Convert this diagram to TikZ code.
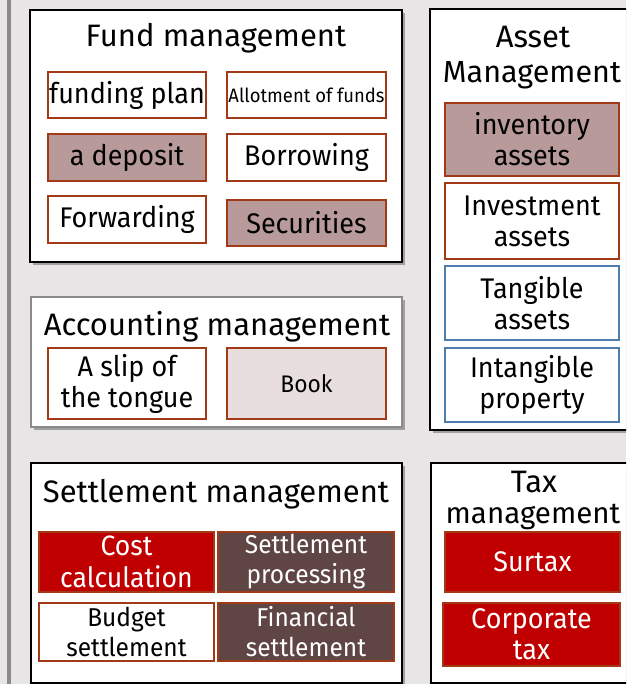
\documentclass[tikz,border=0pt]{standalone}
\usepackage{fontspec}
\setmainfont{Fira Sans}
\newfontfamily\subf{Fira Sans}[FakeStretch=0.95]
\usetikzlibrary{shadows}
\definecolor{bg}{HTML}{E7E5E6}
\definecolor{barc}{HTML}{8A8A8A}
\definecolor{rust}{HTML}{A33A17}
\definecolor{bluec}{HTML}{4F7DAF}
\definecolor{rosy}{HTML}{B99A9A}
\definecolor{pinkl}{HTML}{E9DEDE}
\definecolor{redc}{HTML}{C00000}
\definecolor{brownd}{HTML}{604545}
\newcommand\mybox[7]{\node[#1, minimum width={(#5-#3)*1pt}, minimum height={(#6-#4)*1pt}] (#2) at ({(#3+#5)/2},{(#4+#6)/2}) {#7};}
\begin{document}
\begin{tikzpicture}[x=1pt,y=-1pt,
  outer/.style={draw=black, line width=1.6pt, fill=white, inner sep=0,
    drop shadow={shadow xshift=3pt, shadow yshift=-3pt, opacity=0.3, fill=black}},
  outerg/.style={outer, draw=barc},
  sub/.style={draw=rust, line width=1.6pt, inner sep=0, align=center, fill=white,
    font=\subf\fontsize{28.4}{31}\selectfont},
  subr/.style={sub, fill=rosy},
  subp/.style={sub, fill=pinkl},
  subb/.style={sub, draw=bluec},
  subred/.style={sub, fill=redc, text=white},
  subbr/.style={sub, fill=brownd, text=white},
  setf/.style={font=\subf\fontsize{25.8}{30}\selectfont},
  title/.style={anchor=base, inner sep=0, font=\fontsize{31}{34}\selectfont}]
\useasboundingbox (0,0) rectangle (626,684);
\clip (0,0) rectangle (626,684);
\fill[bg] (0,0) rectangle (626,684);
\fill[barc] (7,0) rectangle (11,684);
% Fund management
\mybox{outer}{fund}{30}{10}{402}{262}{}
\node[title] (tfund) at (216,47) {Fund management};
\mybox{sub}{fp}{48}{72}{206}{118}{funding plan}
\mybox{sub, font=\subf\fontsize{19.4}{22}\selectfont}{allot}{227}{72}{386}{118}{Allotment of funds}
\mybox{subr}{dep}{48}{134}{206}{181}{a deposit}
\mybox{sub}{borr}{227}{134}{386}{181}{Borrowing}
\mybox{sub}{fwd}{48}{196}{206}{243}{Forwarding}
\mybox{subr}{sec}{227}{200}{386}{246}{Securities}
% Asset management
\mybox{outer}{asset}{430}{9}{650}{430}{}
\node[title] (tasset1) at (533,48) {Asset};
\node[title, font=\fontsize{30.5}{34}\selectfont] (tasset2) at (532,83) {Management};
\mybox{subr}{inv}{445}{103}{619}{176}{inventory\\assets}
\mybox{sub}{invest}{445}{183}{619}{259}{Investment\\assets}
\mybox{subb}{tang}{445}{266}{619}{340}{Tangible\\assets}
\mybox{subb}{intang}{445}{348}{619}{422}{Intangible\\property}
% Accounting management
\mybox{outerg}{acct}{31}{297}{402}{427}{}
\node[title] (tacct) at (217,335) {Accounting management};
\mybox{sub}{slip}{48}{348}{206}{419}{A slip of\\the tongue}
\mybox{subp, font=\subf\fontsize{24}{26}\selectfont}{book}{227}{348}{386}{419}{Book}
% Settlement management
\mybox{outer}{settle}{31}{463}{402}{683}{}
\node[title] (tsettle) at (216,502) {Settlement management};
\mybox{subred, font=\subf\fontsize{28}{32}\selectfont}{cost}{39}{532}{214}{592}{Cost\\calculation}
\mybox{subbr, setf}{sproc}{218}{532}{394}{592}{Settlement\\processing}
\mybox{sub, setf}{budget}{39}{603}{214}{661}{Budget\\settlement}
\mybox{subbr, setf}{fin}{218}{603}{394}{661}{Financial\\settlement}
% Tax management
\mybox{outer}{tax}{431}{463}{650}{683}{}
\node[title] (ttax1) at (534,492) {Tax};
\node[title, font=\fontsize{29.5}{34}\selectfont] (ttax2) at (533,523) {management};
\mybox{subred}{surtax}{445}{532}{620}{592}{Surtax}
\mybox{subred}{corp}{443}{603}{620}{666}{Corporate\\tax}
\end{tikzpicture}
\end{document}
